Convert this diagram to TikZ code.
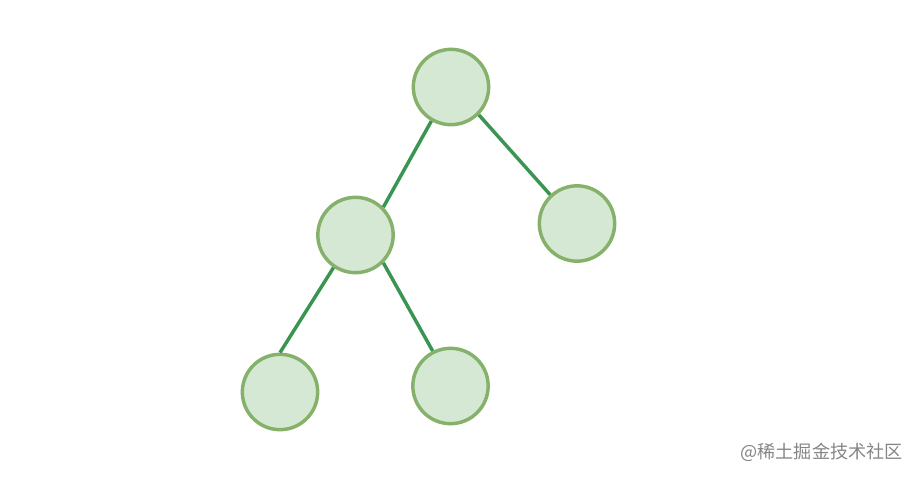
\documentclass[tikz,border=0pt]{standalone}
\usepackage{fontspec}
\newfontfamily\cjk{Noto Sans CJK SC}
\definecolor{nodefill}{HTML}{D5E8D4}
\definecolor{nodedraw}{HTML}{86B16A}
\definecolor{edgecol}{HTML}{3A9552}
\definecolor{wm}{HTML}{858585}
\begin{document}
\begin{tikzpicture}[x=0.75pt,y=-0.75pt,
  treenode/.style={circle,fill=nodefill,draw=nodedraw,line width=2.6pt,minimum size=56.5pt,inner sep=0pt},
  edge/.style={draw=edgecol,line width=2.6pt}]
\useasboundingbox (0,0) rectangle (918,478);
\node[treenode] (root) at (451,87) {};
\node[treenode] (l) at (355.5,235) {};
\node[treenode] (r) at (577,223.5) {};
\node[treenode] (ll) at (280,392) {};
\node[treenode] (lr) at (450.5,386) {};
\draw[edge] (root.240) -- (l.45);
\draw[edge] (root.315) -- (r.133);
\draw[edge] (l.236) -- (ll.90);
\draw[edge] (l.315) -- (lr.117);
\node[anchor=east,text=wm,font=\cjk\fontsize{13.6pt}{15pt}\selectfont,inner sep=0pt] (wmk) at (903,452) {@稀土掘金技术社区};
\end{tikzpicture}
\end{document}
